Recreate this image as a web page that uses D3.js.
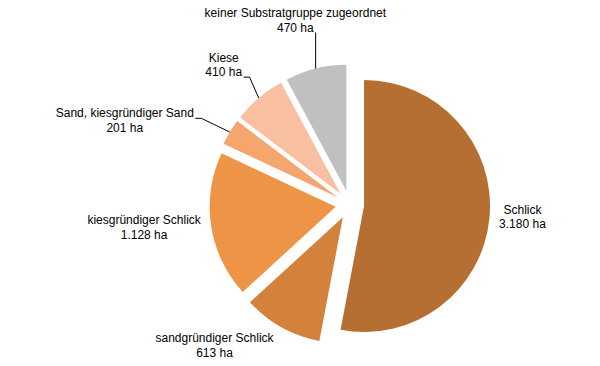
<!DOCTYPE html>
<html>
<head>
<meta charset="utf-8">
<script src="https://cdn.jsdelivr.net/npm/d3@7"></script>
<style>
  html, body { margin: 0; padding: 0; background: #fff; }
  svg { display: block; }
  .label { font-family: "Liberation Sans", Arial, sans-serif; font-size: 12px; fill: #000; }
</style>
</head>
<body>
<div id="chart"></div>
<script>
// Flächen je Substratgruppe (ha)
const categories = [
  "Schlick",
  "sandgründiger Schlick",
  "kiesgründiger Schlick",
  "Sand, kiesgründiger Sand",
  "Kiese",
  "keiner Substratgruppe zugeordnet"
];
const values = [3180, 613, 1128, 201, 410, 470];
const valueLabels = ["3.180 ha", "613 ha", "1.128 ha", "201 ha", "410 ha", "470 ha"];

const colors = ["#b56f33", "#d4813b", "#ee9446", "#f5a66f", "#f8bfa0", "#c0c0c0"];

// label placement relative to the slice's outer edge point, and which line the leader hooks to
const labelOffsets = [[33, -4], [-67, 15], [-67, -1.5], [-105, -14.7], [-35, -36.3], [-20.3, -51.3]];
const leaderLine = [null, null, null, 0, 1, 1];

const width = 600, height = 366;
const cx = 349.8, cy = 204.7;
const radius = 126;
const explode = 14.3;

const svg = d3.select("#chart").append("svg")
  .attr("width", width)
  .attr("height", height);

const data = categories.map((c, i) => ({ name: c, value: values[i], label: valueLabels[i], i }));

const pie = d3.pie().value(d => d.value).sort(null);
const arcs = pie(data);

const arc = d3.arc().innerRadius(0).outerRadius(radius);

const mid = d => (d.startAngle + d.endAngle) / 2;
const polar = (a, r) => [Math.sin(a) * r, -Math.cos(a) * r];

const g = svg.append("g").attr("transform", `translate(${cx},${cy})`);

g.selectAll(".slice")
  .data(arcs)
  .join("path")
  .attr("class", "slice")
  .attr("d", arc)
  .attr("fill", d => colors[d.data.i])
  .attr("transform", d => {
    const [x, y] = polar(mid(d), explode);
    return `translate(${x},${y})`;
  });

// labels
const labels = g.selectAll(".lbl")
  .data(arcs)
  .join("g")
  .attr("class", "lbl");

labels.each(function (d) {
  const sel = d3.select(this);
  const edge = polar(mid(d), radius + explode);
  const off = labelOffsets[d.data.i];
  const lx = edge[0] + off[0], ly = edge[1] + off[1];
  const lines = [d.data.name, d.data.label];
  const texts = lines.map((t, k) => sel.append("text")
    .attr("class", "label")
    .attr("x", lx)
    .attr("y", ly + k * 14.4)
    .attr("text-anchor", "middle")
    .text(t));

  const li = leaderLine[d.data.i];
  if (li !== null) {
    const len = texts[li].node().getComputedTextLength();
    const sx = lx + len / 2 + 1.5;
    const sy = ly + li * 14.4 + 1;
    const hx = Math.min(sx + 6, edge[0]);
    sel.append("path")
      .attr("d", d3.line()([[sx, sy], [hx, sy], edge]))
      .attr("fill", "none")
      .attr("stroke", "#000")
      .attr("stroke-width", 1);
  }
});
</script>
</body>
</html>
